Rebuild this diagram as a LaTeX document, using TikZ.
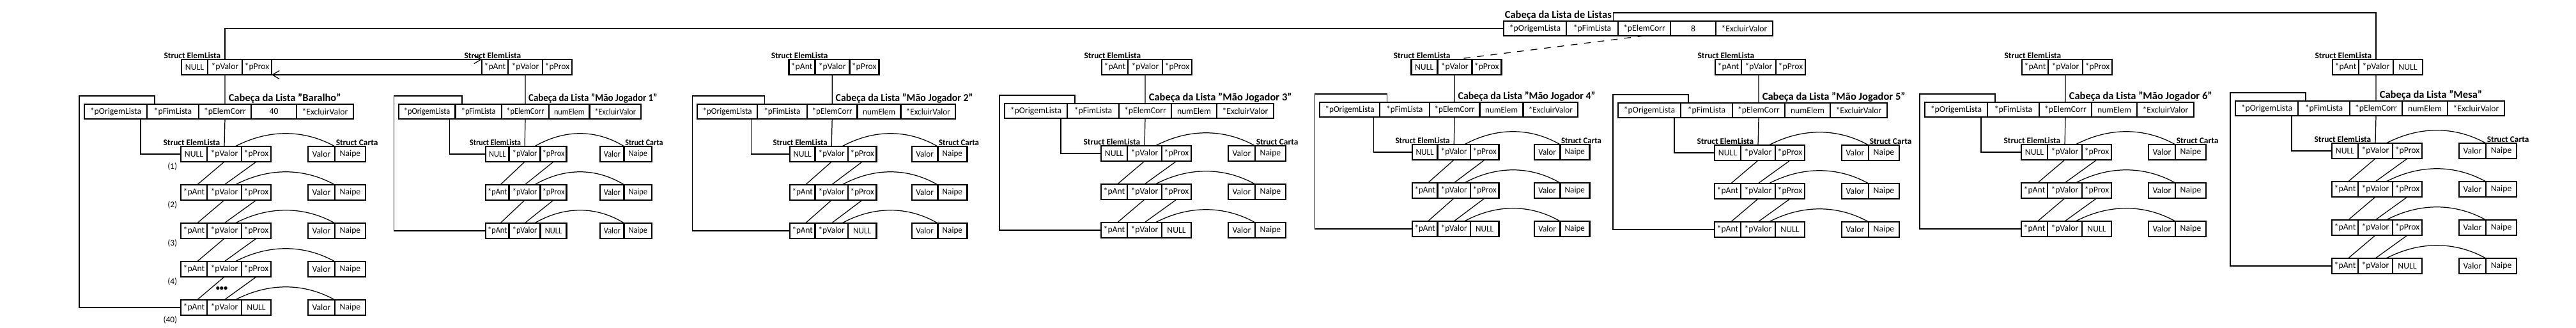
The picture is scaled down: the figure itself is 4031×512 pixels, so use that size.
\documentclass[tikz,border=0pt]{standalone}
\usepackage{fontspec}
\setmainfont{Carlito}
\usetikzlibrary{arrows.meta,positioning,calc}

\tikzset{
  campo/.style={rectangle, draw, line width=0.75pt, inner sep=0pt, outer sep=0pt, minimum height=2.4mm, font=\fontsize{3.9}{4.5}\selectfont},
  titulo/.style={inner sep=0.3pt, font=\bfseries\fontsize{4.7}{5.5}\selectfont},
  rotulo/.style={inner sep=0.3pt, font=\bfseries\fontsize{3.8}{4.5}\selectfont},
  numero/.style={inner sep=0.3pt, font=\fontsize{3.8}{4.5}\selectfont},
  fio/.style={line width=0.35pt},
  seta/.style={fio, -{Straight Barb[length=1.1mm, width=1.3mm]}}
}

% cabeca de lista: 5 campos
\newcommand{\cabeca}[2]{%
  \node[campo, minimum height=2.3mm, minimum width=9.8mm, anchor=north west] (#1h1) at (0,0) {*pOrigemLista};
  \node[campo, minimum height=2.3mm, minimum width=8.1mm, right=0pt of #1h1] (#1h2) {*pFimLista};
  \node[campo, minimum height=2.3mm, minimum width=8.2mm, right=0pt of #1h2] (#1h3) {*pElemCorr};
  \node[campo, minimum height=2.3mm, minimum width=7.1mm, right=0pt of #1h3] (#1h4) {#2};
  \node[campo, minimum height=2.3mm, minimum width=8.9mm, right=0pt of #1h4] (#1h5) {*ExcluirValor};
}

% struct ElemLista: 3 campos
\newcommand{\elem}[5]{%
  \node[campo, minimum width=4.1mm, anchor=west] (#1a) at #2 {#3};
  \node[campo, minimum width=5.4mm, right=0pt of #1a] (#1b) {#4};
  \node[campo, minimum width=4.6mm, right=0pt of #1b] (#1c) {#5};
}

% lista completa: prefixo, x, y, escala, titulo, quarto campo, linhas
\newcommand{\lista}[7]{%
  \begin{scope}[shift={(#2,#3)}, xscale=#4, transform shape]
    \cabeca{#1}{#6}
    \node[titulo, anchor=south west] at ([xshift=0.4mm]#1h3.north) {#5};
    \foreach \linha in {1,...,#7} {
      \pgfmathtruncatemacro{\ly}{18+60*\linha}
      \pgfmathtruncatemacro{\lant}{\linha-1}
      \ifnum\linha=1 \def\campoant{NULL}\else\def\campoant{*pAnt}\fi
      \ifnum\linha=#7 \def\campoprox{NULL}\else\def\campoprox{*pProx}\fi
      \elem{#1e\linha}{(151,\ly)}{\campoant}{*pValor}{\campoprox}
      \node[campo, minimum width=4.2mm, anchor=west] (#1c\linha a) at (350,\ly) {Valor};
      \node[campo, minimum width=4.8mm, right=0pt of #1c\linha a] (#1c\linha b) {Naipe};
      \draw[fio] ([xshift=1.7mm]#1e\linha b.north) .. controls +(54,-28) and +(-47,-26) .. (#1c\linha a.north east);
      \ifnum\linha>1
        \draw[fio] (#1e\lant b.south) -- ([xshift=0.5mm]#1e\linha a.north);
        \draw[fio] (#1e\lant c.south) -- (#1e\linha b.north);
      \fi
    }
    \draw[fio] (#1h3.south) -- (#1e1b.north);
    \draw[fio] ([xshift=3.9mm]#1h1.south) |- (#1e1a.west);
    \draw[fio] ([xshift=-2.85mm]#1h2.north) |- (-8,-13) |- (#1e#7a.west);
    \node[rotulo, anchor=south east] at ([xshift=-0.5mm]#1e1b.north) {Struct ElemLista};
    \node[rotulo, anchor=south west] at (#1c1a.north east) {Struct Carta};
  \end{scope}}

\begin{document}
\begin{tikzpicture}[x=0.1mm, y=-0.1mm]
  \useasboundingbox (0,0) rectangle (4031,512);

  % listas de cartas
  \lista{B}{132}{163}{1}{Cabeça da Lista "Baralho"}{40}{5}
  \lista{Ja}{624}{163}{0.9}{Cabeça da Lista "Mão Jogador 1"}{numElem}{3}
  \lista{Jb}{1091}{163}{0.96}{Cabeça da Lista "Mão Jogador 2"}{numElem}{3}
  \lista{Jc}{1572}{162}{1}{Cabeça da Lista "Mão Jogador 3"}{numElem}{3}
  \lista{Jd}{2065}{160}{0.96}{Cabeça da Lista "Mão Jogador 4"}{numElem}{3}
  \lista{Je}{2532}{161}{1}{Cabeça da Lista "Mão Jogador 5"}{numElem}{3}
  \lista{Jf}{3012}{160}{1}{Cabeça da Lista "Mão Jogador 6"}{numElem}{3}
  \lista{Me}{3498}{158}{1}{Cabeça da Lista "Mesa"}{numElem}{4}

  \foreach \linha/\nr in {1/1,2/2,3/3,4/4,5/40}
    \node[numero, anchor=north east] at ([xshift=-0.4mm]Be\linha a.south west) {(\nr)};
  \node[numero, font=\bfseries\fontsize{3.5}{4}\selectfont] (reticencias) at (347,451) {•••};

  % cabeca da lista de listas
  \begin{scope}[shift={(2353,33)}]
    \cabeca{L}{8}
  \end{scope}
  \node[titulo, anchor=south west] at (Lh1.north west) {Cabeça da Lista de Listas};

  % elementos da lista de listas
  \coordinate (topo) at (0,105);
  \elem{t1}{($(Bh3.north |- topo)+(-68,0)$)}{NULL}{*pValor}{*pProx}
  \elem{t2}{($(Jah3.north |- topo)+(-68,0)$)}{*pAnt}{*pValor}{*pProx}
  \elem{t3}{($(Jbh3.north |- topo)+(-68,0)$)}{*pAnt}{*pValor}{*pProx}
  \elem{t4}{($(Jch3.north |- topo)+(-68,0)$)}{*pAnt}{*pValor}{*pProx}
  \elem{t5}{($(Jdh3.north |- topo)+(-68,0)$)}{NULL}{*pValor}{*pProx}
  \elem{t6}{($(Jeh3.north |- topo)+(-68,0)$)}{*pAnt}{*pValor}{*pProx}
  \elem{t7}{($(Jfh3.north |- topo)+(-68,0)$)}{*pAnt}{*pValor}{*pProx}
  \elem{t8}{($(Meh3.north |- topo)+(-68,0)$)}{*pAnt}{*pValor}{NULL}

  \foreach \q/\cab in {1/B,2/Ja,3/Jb,4/Jc,5/Jd,6/Je,7/Jf,8/Me} {
    \node[rotulo, anchor=south east] at ([xshift=-0.5mm]t\q b.north) {Struct ElemLista};
    \draw[fio] (t\q b.south) -- (\cab h3.north);
  }

  \draw[fio] (Lh1.west) -| (t1b.north);
  \draw[fio] ([xshift=3.3mm]Lh2.north) -- ++(0,-13) -| (t8b.north);
  \draw[fio, dashed] (Lh3.south) -- (t5b.north);
  \draw[seta] (t1c.north east) -- (t2a.north west);
  \draw[seta] (t2a.south west) -- (t1c.south east);
\end{tikzpicture}
\end{document}
